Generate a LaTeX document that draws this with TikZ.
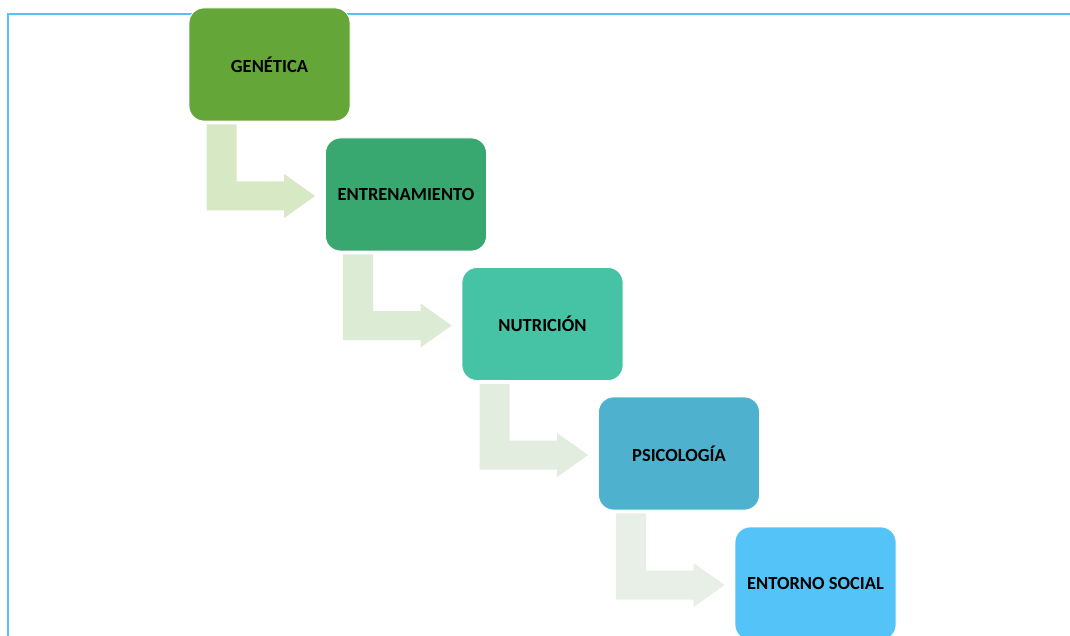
\documentclass[tikz,border=0pt]{standalone}
\usepackage{fontspec}
\setmainfont{Carlito}
\usetikzlibrary{calc}
\definecolor{frameblue}{RGB}{86,195,245}
\definecolor{cA}{RGB}{100,166,56}
\definecolor{cB}{RGB}{56,168,112}
\definecolor{cC}{RGB}{70,194,165}
\definecolor{cD}{RGB}{78,178,207}
\definecolor{cE}{RGB}{84,196,248}
\definecolor{aA}{RGB}{214,232,196}
\definecolor{aB}{RGB}{220,235,211}
\definecolor{aC}{RGB}{226,237,224}
\definecolor{aD}{RGB}{232,239,231}
\tikzset{
  stagebox/.style={draw=white, line width=0.8pt, rounded corners=15pt,
    minimum width=161pt, minimum height=113pt, inner sep=0pt,
    font=\fontsize{18.5}{20}\selectfont\bfseries, text=black},
  framestroke/.style={draw=frameblue, line width=2.5pt},
}
\newcommand{\elbowarrow}[3]{%
  \fill[#3] let \p1=(#1.south west), \p2=(#2.west) in
    (\x1+18pt,\y1-3pt) -- (\x1+48pt,\y1-3pt) -- (\x1+48pt,\y2+13pt)
    -- (\x2-41pt,\y2+13pt) -- (\x2-41pt,\y2+20.5pt) -- (\x2-10pt,\y2-1.5pt)
    -- (\x2-41pt,\y2-23.5pt) -- (\x2-41pt,\y2-16pt) -- (\x1+18pt,\y2-16pt) -- cycle;}
\begin{document}
\begin{tikzpicture}[x=1pt,y=-1pt]
\useasboundingbox (0,0) rectangle (1070,636);
\draw[framestroke] (1072,14) -- (8,14) -- (8,640);
\node[stagebox, fill=cA] (gen) at (269.5,64.5) {GENÉTICA};
\node[stagebox, fill=cB] (ent) at (406,194.5) {ENTRENAMIENTO};
\node[stagebox, fill=cC] (nut) at (542.5,324) {NUTRICIÓN};
\node[stagebox, fill=cD] (psi) at (679,453.5) {PSICOLOGÍA};
\node[stagebox, fill=cE] (soc) at (815.5,583.5) {ENTORNO SOCIAL};
\elbowarrow{gen}{ent}{aA}
\elbowarrow{ent}{nut}{aB}
\elbowarrow{nut}{psi}{aC}
\elbowarrow{psi}{soc}{aD}
\end{tikzpicture}
\end{document}
